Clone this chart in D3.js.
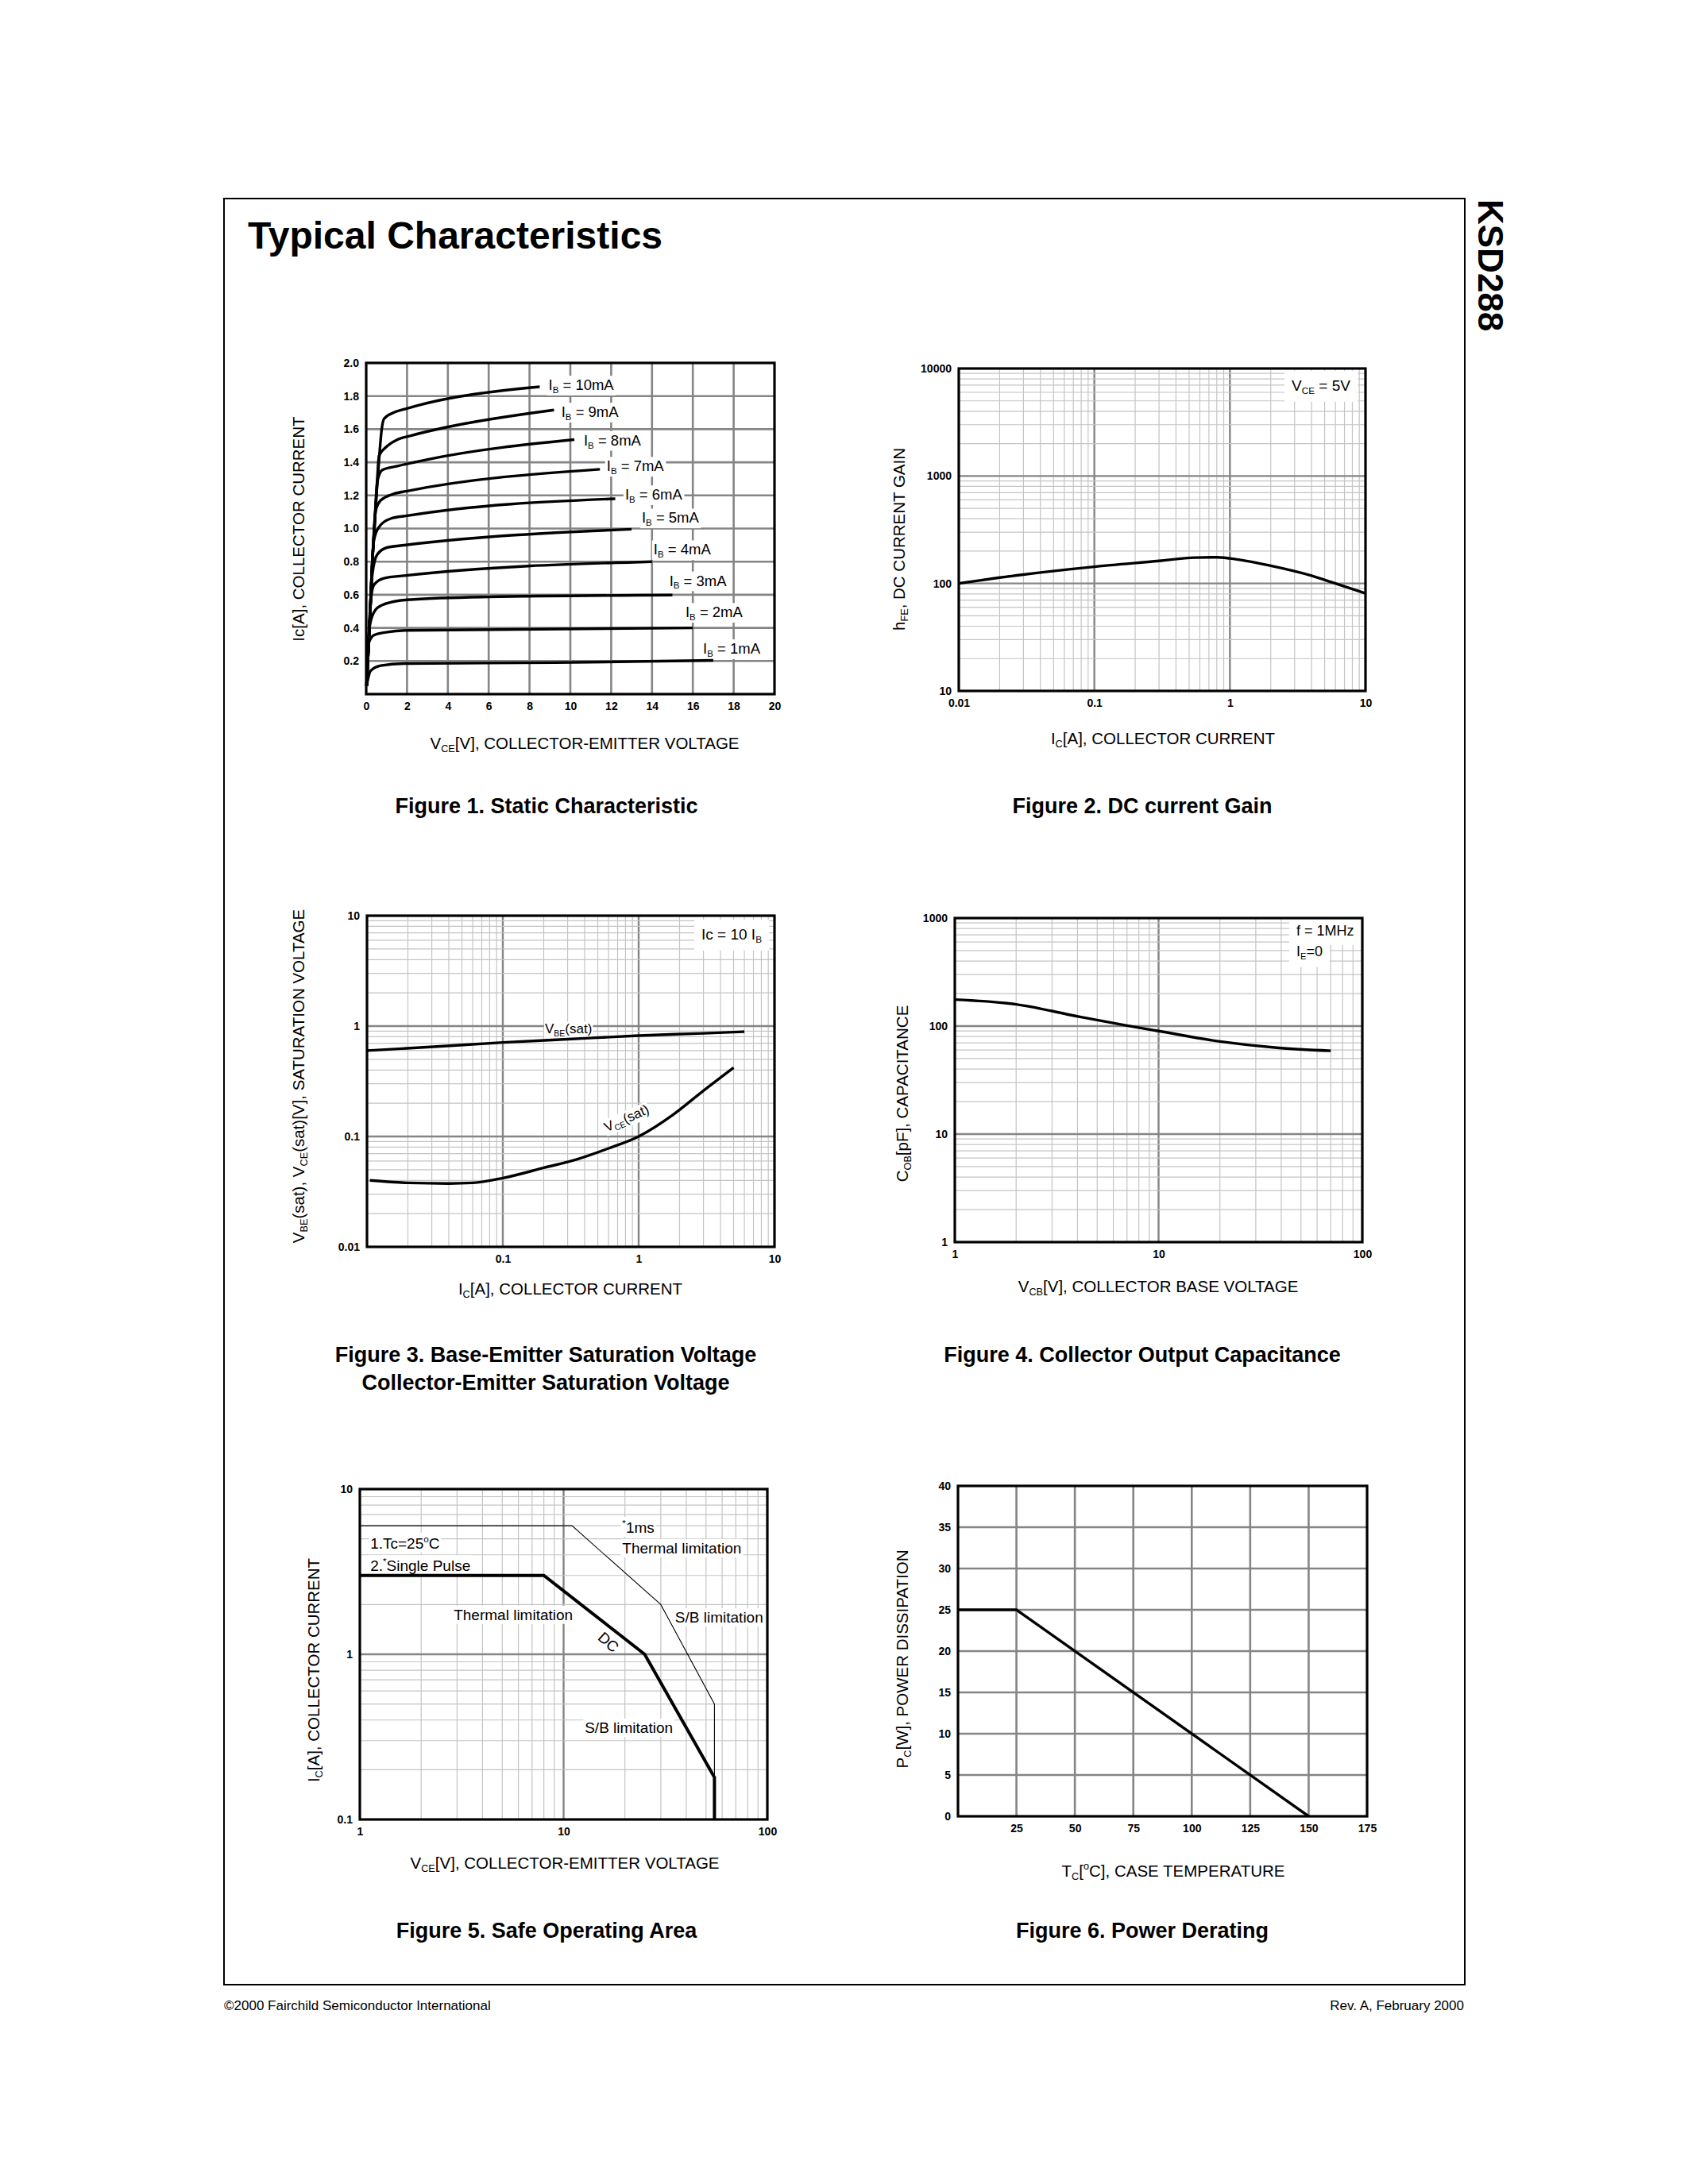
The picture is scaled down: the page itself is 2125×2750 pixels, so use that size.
<!DOCTYPE html>
<html><head><meta charset="utf-8">
<script src="https://cdn.jsdelivr.net/npm/d3@7"></script>
<style>
body{margin:0;background:#fff}
svg{display:block}
text{font-family:"Liberation Sans",Arial,Helvetica,sans-serif}
</style>
</head><body>
<script>
// ================= DATA =================
// Figure 1 – Static characteristic (VCE [V], IC [A])
const fig1XTicks = [0,2,4,6,8,10,12,14,16,18,20];
const fig1XTickLabels = ["0","2","4","6","8","10","12","14","16","18","20"];
const fig1YTicks = [0.2,0.4,0.6,0.8,1.0,1.2,1.4,1.6,1.8,2.0];
const fig1YTickLabels = ["0.2","0.4","0.6","0.8","1.0","1.2","1.4","1.6","1.8","2.0"];
const ib1  = [[0.02,0.05],[0.21,0.14],[0.71,0.172],[1.86,0.185],[9.26,0.19],[17,0.204]];
const ib2  = [[0.02,0.05],[0.13,0.31],[0.38,0.356],[1.04,0.375],[2.0,0.385],[16,0.40]];
const ib3  = [[0.02,0.05],[0.1,0.3],[0.21,0.436],[0.54,0.52],[1.2,0.555],[2.19,0.571],[5.97,0.587],[15,0.598]];
const ib4  = [[0.02,0.05],[0.12,0.35],[0.21,0.547],[0.38,0.66],[0.87,0.70],[1.86,0.715],[14,0.80]];
const ib5  = [[0.02,0.05],[0.16,0.4],[0.3,0.723],[0.54,0.843],[1.04,0.886],[1.86,0.899],[13,0.996]];
const ib6  = [[0.02,0.05],[0.16,0.4],[0.3,0.8],[0.38,0.93],[0.63,1.01],[1.2,1.06],[2.0,1.077],[12.2,1.18]];
const ib7  = [[0.02,0.05],[0.16,0.4],[0.3,0.8],[0.46,1.106],[0.71,1.17],[1.37,1.21],[2.0,1.226],[11.45,1.358]];
const ib8  = [[0.02,0.05],[0.16,0.4],[0.3,0.8],[0.4,1.0],[0.54,1.282],[0.79,1.354],[1.53,1.377],[3.0,1.417],[10.2,1.537]];
const ib9  = [[0.02,0.05],[0.16,0.4],[0.3,0.8],[0.4,1.0],[0.5,1.2],[0.63,1.44],[0.95,1.489],[1.53,1.537],[2.19,1.561],[3.83,1.609],[9.2,1.716]];
const ib10 = [[0.02,0.05],[0.16,0.4],[0.3,0.8],[0.4,1.0],[0.5,1.2],[0.62,1.4],[0.76,1.6],[0.87,1.662],[1.37,1.701],[2.0,1.725],[8.5,1.856]];
const fig1Series = [ib1,ib2,ib3,ib4,ib5,ib6,ib7,ib8,ib9,ib10];
const fig1SeriesNames = ["1mA","2mA","3mA","4mA","5mA","6mA","7mA","8mA","9mA","10mA"];
// label anchor (VCE, IC) for each series name
const fig1LabelVce = [16.5,15.64,14.85,14.08,13.5,12.68,11.78,10.66,9.56,8.93];
const fig1LabelIc  = [0.244,0.464,0.654,0.842,1.034,1.174,1.346,1.502,1.673,1.836];

// Figure 2 – DC current gain
const fig2XTicks = [0.01,0.1,1,10];
const fig2XTickLabels = ["0.01","0.1","1","10"];
const fig2YTicks = [10,100,1000,10000];
const fig2YTickLabels = ["10","100","1000","10000"];
const fig2Ic  = [0.01,0.03,0.1,0.3,0.55,0.8,1,2,4,6,10];
const fig2Hfe = [100,121,143,162,174,175,171,146,118,100,81];

// Figure 3 – Saturation voltages
const fig3XTicks = [0.1,1,10];
const fig3XTickLabels = ["0.1","1","10"];
const fig3YTicks = [0.01,0.1,1,10];
const fig3YTickLabels = ["0.01","0.1","1","10"];
const fig3VbeIc = [0.01,0.031,0.1,0.3,1,3,6];
const fig3Vbe   = [0.6,0.65,0.71,0.76,0.82,0.86,0.89];
const fig3VceIc = [0.0105,0.02,0.04,0.06,0.1,0.2,0.35,0.6,1,1.8,3,5];
const fig3Vce   = [0.04,0.038,0.0375,0.038,0.042,0.052,0.062,0.078,0.1,0.158,0.26,0.42];

// Figure 4 – Collector output capacitance
const fig4XTicks = [1,10,100];
const fig4XTickLabels = ["1","10","100"];
const fig4YTicks = [1,10,100,1000];
const fig4YTickLabels = ["1","10","100","1000"];
const fig4Vcb = [1,2,4,7,10,20,38,70];
const fig4Cob = [176,159,123,101,90,72,63,59];

// Figure 5 – Safe operating area
const fig5XTicks = [1,10,100];
const fig5XTickLabels = ["1","10","100"];
const fig5YTicks = [0.1,1,10];
const fig5YTickLabels = ["0.1","1","10"];
const fig5DcVce = [1,8,25,55,55];
const fig5DcIc  = [3,3,1,0.18,0.1];
const fig5PulseVce = [1,11,30,55,55];
const fig5PulseIc  = [6,6,2,0.5,0.1];

// Figure 6 – Power derating
const fig6XTicks = [25,50,75,100,125,150,175];
const fig6XTickLabels = ["25","50","75","100","125","150","175"];
const fig6YTicks = [0,5,10,15,20,25,30,35,40];
const fig6YTickLabels = ["0","5","10","15","20","25","30","35","40"];
const fig6Tc = [0,25,150];
const fig6Pc = [25,25,0];

// ================= DRAWING =================
const W = 2125, H = 2750;
const FONT = '"Liberation Sans",Arial,Helvetica,sans-serif';
const svg = d3.select("body").append("svg").attr("width",W).attr("height",H);
svg.append("rect").attr("width",W).attr("height",H).attr("fill","#fff");

// rich text: parts = [[str, kind]] kind: n | sub | sup
function rich(parent, parts, size, opts={}){
  const t = parent.append("text").attr("font-size",size).attr("font-family",FONT)
    .attr("fill","#000");
  if(opts.weight) t.attr("font-weight",opts.weight);
  if(opts.anchor) t.attr("text-anchor",opts.anchor);
  let shift = 0;
  parts.forEach(p=>{
    const s = typeof p === "string" ? p : p[0];
    const kind = typeof p === "string" ? "n" : p[1];
    const ts = t.append("tspan").text(s);
    const target = kind==="sub" ? size*0.2 : kind==="sup" ? -size*0.42 : 0;
    if(target !== shift){ ts.attr("dy", target-shift); shift = target; }
    if(kind !== "n") ts.attr("font-size", size*0.62);
  });
  return t;
}

function logMinors(lo, hi){
  const out=[];
  for(let d=lo; d<hi*0.999; d*=10){ for(let k=2;k<=9;k++) out.push(d*k); }
  return out;
}
function logMajors(lo, hi){
  const out=[];
  for(let d=lo*10; d<hi*0.999; d*=10) out.push(d);
  return out;
}

function panel(o){
  const [x0,y0,x1,y1] = o.box;
  const x = (o.xLog? d3.scaleLog(): d3.scaleLinear()).domain(o.xDomain).range([x0,x1]);
  const y = (o.yLog? d3.scaleLog(): d3.scaleLinear()).domain(o.yDomain).range([y1,y0]);
  const g = svg.append("g");
  const gGrid = g.append("g"), gBg = g.append("g"), gLines = g.append("g"),
        gFrame = g.append("g"), gText = g.append("g");
  const vline = (sel, arr, col, w) => sel.selectAll(null).data(arr).join("line")
      .attr("x1",d=>x(d)).attr("x2",d=>x(d)).attr("y1",y0).attr("y2",y1)
      .attr("stroke",col).attr("stroke-width",w);
  const hline = (sel, arr, col, w) => sel.selectAll(null).data(arr).join("line")
      .attr("y1",d=>y(d)).attr("y2",d=>y(d)).attr("x1",x0).attr("x2",x1)
      .attr("stroke",col).attr("stroke-width",w);
  if(o.xLog){ vline(gGrid, logMinors(o.xDomain[0],o.xDomain[1]), "#c4c4c4", 1.2);
              vline(gGrid, logMajors(o.xDomain[0],o.xDomain[1]), "#858585", 2.4); }
  else vline(gGrid, o.gridX, "#858585", 2.6);
  if(o.yLog){ hline(gGrid, logMinors(o.yDomain[0],o.yDomain[1]), "#c4c4c4", 1.2);
              hline(gGrid, logMajors(o.yDomain[0],o.yDomain[1]), "#858585", 2.4); }
  else hline(gGrid, o.gridY, "#858585", 2.6);

  gFrame.append("rect").attr("x",x0).attr("y",y0).attr("width",x1-x0).attr("height",y1-y0)
    .attr("fill","none").attr("stroke","#000").attr("stroke-width",3.2);

  const xa = d3.axisBottom(x).tickValues(o.xTicks).tickFormat((d,i)=>o.xTickLabels[i])
    .tickSize(0).tickPadding(10);
  const ya = d3.axisLeft(y).tickValues(o.yTicks).tickFormat((d,i)=>o.yTickLabels[i])
    .tickSize(0).tickPadding(9);
  [ [xa, `translate(0,${y1})`], [ya, `translate(${x0},0)`] ].forEach(([ax,tr])=>{
    const a = gText.append("g").attr("transform",tr).call(ax);
    a.select(".domain").remove();
    a.attr("font-family",FONT).attr("font-size",14).attr("font-weight","bold");
    a.selectAll("text").attr("fill","#000");
  });

  // axis titles
  rich(gText.append("g").attr("transform",`translate(${o.xLabelPos[0]},${o.xLabelPos[1]})`),
       o.xLabel, 20.5, {anchor:"middle"});
  rich(gText.append("g").attr("transform",`translate(${o.yLabelPos[0]},${o.yLabelPos[1]}) rotate(-90)`),
       o.yLabel, 20.5, {anchor:"middle"});

  // caption
  (o.caption||[]).forEach((c,i)=>{
    rich(gText.append("g").attr("transform",`translate(${o.capPos[0]},${o.capPos[1]+i*35})`),
      [c], 27, {anchor:"middle", weight:"bold"});
  });

  // label with white background
  function label(px, py, parts, size, opts={}){
    const tr = `translate(${px},${py})` + (opts.rotate? ` rotate(${opts.rotate})`:"");
    const tg = gText.append("g").attr("transform",tr);
    const t = rich(tg, parts, size, {anchor: opts.anchor||"start"});
    if(opts.bg !== false){
      const b = t.node().getBBox();
      const pad = opts.pad==null? 3 : opts.pad;
      gBg.append("g").attr("transform",tr).append("rect")
        .attr("x",b.x-pad).attr("y",b.y-pad+1).attr("width",b.width+2*pad).attr("height",b.height+2*pad-2)
        .attr("fill","#fff");
    }
    return t;
  }
  return {x,y,g,gLines,gText,gBg,label};
}

// ---------- Page furniture ----------
svg.append("rect").attr("x",282).attr("y",250).attr("width",1562).attr("height",2249)
  .attr("fill","none").attr("stroke","#000").attr("stroke-width",2);
svg.append("text").attr("x",312).attr("y",313).attr("font-family",FONT).attr("font-size",48)
  .attr("font-weight","bold").text("Typical Characteristics");
svg.append("text").attr("transform","translate(1861,251) rotate(90)").attr("font-family",FONT)
  .attr("font-size",44).attr("font-weight","bold").text("KSD288");
svg.append("text").attr("x",282).attr("y",2531).attr("font-family",FONT).attr("font-size",17)
  .text("\u00A92000 Fairchild Semiconductor International");
svg.append("text").attr("x",1843).attr("y",2531).attr("font-family",FONT).attr("font-size",17)
  .attr("text-anchor","end").text("Rev. A, February 2000");

const lineW = 3.4;

// ---------- Figure 1 ----------
{
  const p = panel({box:[461,457,975,874], xDomain:[0,20], yDomain:[0,2],
    gridX:[2,4,6,8,10,12,14,16,18], gridY:[0.2,0.4,0.6,0.8,1.0,1.2,1.4,1.6,1.8],
    xTicks:fig1XTicks, xTickLabels:fig1XTickLabels, yTicks:fig1YTicks, yTickLabels:fig1YTickLabels,
    xLabel:[["V","n"],["CE","sub"],["[V], COLLECTOR-EMITTER VOLTAGE","n"]], xLabelPos:[736,943],
    yLabel:[["Ic[A], COLLECTOR CURRENT","n"]], yLabelPos:[383,666],
    caption:["Figure 1. Static Characteristic"], capPos:[688,1024]});
  const line = d3.line().x(d=>p.x(d[0])).y(d=>p.y(d[1])).curve(d3.curveMonotoneX);
  p.gLines.selectAll("path").data(fig1Series).join("path").attr("d",line)
    .attr("fill","none").attr("stroke","#000").attr("stroke-width",lineW).attr("stroke-linejoin","round");
  fig1SeriesNames.forEach((n,i)=>{
    p.label(p.x(fig1LabelVce[i]), p.y(fig1LabelIc[i]), [["I","n"],["B","sub"],[" = "+n,"n"]], 18.5, {pad:2});
  });
}

// ---------- Figure 2 ----------
{
  const p = panel({box:[1207,464,1719,870], xLog:true, yLog:true, xDomain:[0.01,10], yDomain:[10,10000],
    xTicks:fig2XTicks, xTickLabels:fig2XTickLabels, yTicks:fig2YTicks, yTickLabels:fig2YTickLabels,
    xLabel:[["I","n"],["C","sub"],["[A], COLLECTOR CURRENT","n"]], xLabelPos:[1464,937],
    yLabel:[["h","n"],["FE","sub"],[",  DC CURRENT GAIN","n"]], yLabelPos:[1139,679],
    caption:["Figure 2. DC current Gain"], capPos:[1438,1024]});
  const line = d3.line().x((d,i)=>p.x(fig2Ic[i])).y(d=>p.y(d)).curve(d3.curveMonotoneX);
  p.gLines.append("path").attr("d",line(fig2Hfe)).attr("fill","none").attr("stroke","#000").attr("stroke-width",lineW);
  p.label(1626, 492, [["V","n"],["CE","sub"],[" = 5V","n"]], 19, {pad:9});
}

// ---------- Figure 3 ----------
{
  const p = panel({box:[462,1153,975,1570], xLog:true, yLog:true, xDomain:[0.01,10], yDomain:[0.01,10],
    xTicks:fig3XTicks, xTickLabels:fig3XTickLabels, yTicks:fig3YTicks, yTickLabels:fig3YTickLabels,
    xLabel:[["I","n"],["C","sub"],["[A], COLLECTOR CURRENT","n"]], xLabelPos:[718,1630],
    yLabel:[["V","n"],["BE","sub"],["(sat),  V","n"],["CE","sub"],["(sat)[V],  SATURATION VOLTAGE","n"]], yLabelPos:[383,1355],
    caption:["Figure 3. Base-Emitter Saturation Voltage","Collector-Emitter Saturation Voltage"], capPos:[687,1715]});
  const l1 = d3.line().x((d,i)=>p.x(fig3VbeIc[i])).y(d=>p.y(d)).curve(d3.curveMonotoneX);
  const l2 = d3.line().x((d,i)=>p.x(fig3VceIc[i])).y(d=>p.y(d)).curve(d3.curveMonotoneX);
  p.gLines.append("path").attr("d",l1(fig3Vbe)).attr("fill","none").attr("stroke","#000").attr("stroke-width",lineW);
  p.gLines.append("path").attr("d",l2(fig3Vce)).attr("fill","none").attr("stroke","#000").attr("stroke-width",lineW);
  p.label(883, 1183, [["Ic = 10 I","n"],["B","sub"]], 19, {pad:9});
  p.label(p.x(0.204), p.y(0.855), [["V","n"],["BE","sub"],["(sat)","n"]], 17, {pad:1});
  p.label(p.x(0.84), p.y(0.134), [["V","n"],["CE","sub"],["(sat)","n"]], 17, {anchor:"middle", rotate:-24, pad:1});
}

// ---------- Figure 4 ----------
{
  const p = panel({box:[1202,1156,1715,1564], xLog:true, yLog:true, xDomain:[1,100], yDomain:[1,1000],
    xTicks:fig4XTicks, xTickLabels:fig4XTickLabels, yTicks:fig4YTicks, yTickLabels:fig4YTickLabels,
    xLabel:[["V","n"],["CB","sub"],["[V], COLLECTOR BASE VOLTAGE","n"]], xLabelPos:[1458,1627],
    yLabel:[["C","n"],["OB","sub"],["[pF],  CAPACITANCE","n"]], yLabelPos:[1143,1377],
    caption:["Figure 4. Collector Output Capacitance"], capPos:[1438,1715]});
  const line = d3.line().x((d,i)=>p.x(fig4Vcb[i])).y(d=>p.y(d)).curve(d3.curveMonotoneX);
  p.gLines.append("path").attr("d",line(fig4Cob)).attr("fill","none").attr("stroke","#000").attr("stroke-width",lineW);
  p.label(1632, 1178, [["f = 1MHz","n"]], 18, {pad:9});
  p.label(1632, 1204, [["I","n"],["E","sub"],["=0","n"]], 18, {pad:9});
}

// ---------- Figure 5 ----------
{
  const p = panel({box:[453,1875,966,2291], xLog:true, yLog:true, xDomain:[1,100], yDomain:[0.1,10],
    xTicks:fig5XTicks, xTickLabels:fig5XTickLabels, yTicks:fig5YTicks, yTickLabels:fig5YTickLabels,
    xLabel:[["V","n"],["CE","sub"],["[V], COLLECTOR-EMITTER VOLTAGE","n"]], xLabelPos:[711,2353],
    yLabel:[["I","n"],["C","sub"],["[A], COLLECTOR CURRENT","n"]], yLabelPos:[402,2103],
    caption:["Figure 5. Safe Operating Area"], capPos:[688,2440]});
  const line = d3.line().x(d=>p.x(d[0])).y(d=>p.y(d[1]));
  p.gLines.append("path").attr("d",line(d3.zip(fig5PulseVce,fig5PulseIc))).attr("fill","none")
    .attr("stroke","#000").attr("stroke-width",1.1);
  p.gLines.append("path").attr("d",line(d3.zip(fig5DcVce,fig5DcIc))).attr("fill","none")
    .attr("stroke","#000").attr("stroke-width",4).attr("stroke-linejoin","miter");
  const fx = f => 453 + f*513, fy = f => 1875 + f*416;
  p.label(fx(0.0256), fy(0.18), [["1.Tc=25","n"],["o","sup"],["C","n"]], 19, {pad:2});
  p.label(fx(0.0256), fy(0.248), [["2.","n"],["*","sup"],["Single Pulse","n"]], 19, {pad:2});
  p.label(fx(0.644), fy(0.132), [["*","sup"],["1ms","n"]], 19, {pad:2});
  p.label(fx(0.644), fy(0.194), [["Thermal limitation","n"]], 19, {pad:2});
  p.label(fx(0.2304), fy(0.396), [["Thermal limitation","n"]], 19, {pad:2});
  p.label(fx(0.7736), fy(0.404), [["S/B limitation","n"]], 19, {pad:2});
  p.label(fx(0.552), fy(0.7384), [["S/B limitation","n"]], 19, {pad:2});
  p.label(fx(0.6016), fy(0.475), [["DC","n"]], 19, {anchor:"middle", rotate:42, bg:false});
}

// ---------- Figure 6 ----------
{
  const p = panel({box:[1206,1871,1721,2287], xDomain:[0,175], yDomain:[0,40],
    gridX:[25,50,75,100,125,150], gridY:[5,10,15,20,25,30,35],
    xTicks:fig6XTicks, xTickLabels:fig6XTickLabels, yTicks:fig6YTicks, yTickLabels:fig6YTickLabels,
    xLabel:[["T","n"],["C","sub"],["[","n"],["o","sup"],["C], CASE TEMPERATURE","n"]], xLabelPos:[1477,2363],
    yLabel:[["P","n"],["C","sub"],["[W],  POWER DISSIPATION","n"]], yLabelPos:[1143,2089],
    caption:["Figure 6. Power Derating"], capPos:[1438,2440]});
  const line = d3.line().x((d,i)=>p.x(fig6Tc[i])).y(d=>p.y(d));
  p.gLines.append("path").attr("d",line(fig6Pc)).attr("fill","none").attr("stroke","#000").attr("stroke-width",lineW);
}
</script>
</body></html>
